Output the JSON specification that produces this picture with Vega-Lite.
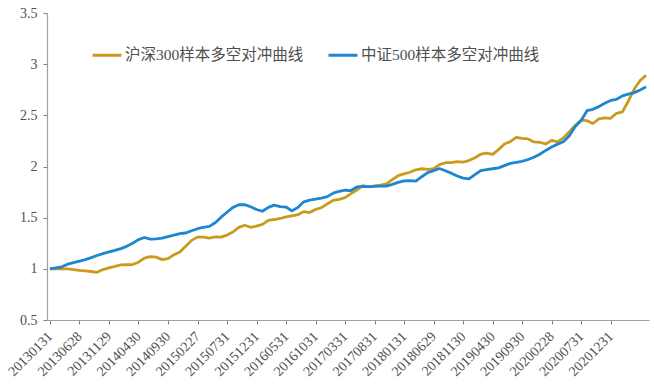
{
  "$schema": "https://vega.github.io/schema/vega-lite/v6.json",
  "autosize": "none",
  "width": 602,
  "height": 307,
  "padding": {"left": 47, "top": 13, "right": 5, "bottom": 67},
  "background": "white",
  "config": {
    "view": {"stroke": null},
    "font": "Liberation Serif, Noto Sans CJK SC"
  },
  "data": {
    "values": [
      {"date": "20130131", "hs300": 1.000, "zz500": 1.000},
      {"date": "20130228", "hs300": 1.000, "zz500": 1.010},
      {"date": "20130329", "hs300": 1.000, "zz500": 1.020},
      {"date": "20130430", "hs300": 1.000, "zz500": 1.045},
      {"date": "20130531", "hs300": 0.993, "zz500": 1.060},
      {"date": "20130628", "hs300": 0.985, "zz500": 1.075},
      {"date": "20130731", "hs300": 0.981, "zz500": 1.090},
      {"date": "20130830", "hs300": 0.974, "zz500": 1.110},
      {"date": "20130930", "hs300": 0.966, "zz500": 1.130},
      {"date": "20131031", "hs300": 0.993, "zz500": 1.148},
      {"date": "20131129", "hs300": 1.010, "zz500": 1.165},
      {"date": "20131231", "hs300": 1.024, "zz500": 1.180},
      {"date": "20140130", "hs300": 1.038, "zz500": 1.198},
      {"date": "20140228", "hs300": 1.040, "zz500": 1.220},
      {"date": "20140331", "hs300": 1.042, "zz500": 1.250},
      {"date": "20140430", "hs300": 1.065, "zz500": 1.286},
      {"date": "20140530", "hs300": 1.105, "zz500": 1.306},
      {"date": "20140630", "hs300": 1.119, "zz500": 1.290},
      {"date": "20140731", "hs300": 1.114, "zz500": 1.293},
      {"date": "20140829", "hs300": 1.090, "zz500": 1.300},
      {"date": "20140930", "hs300": 1.100, "zz500": 1.315},
      {"date": "20141031", "hs300": 1.137, "zz500": 1.330},
      {"date": "20141128", "hs300": 1.165, "zz500": 1.345},
      {"date": "20141231", "hs300": 1.220, "zz500": 1.350},
      {"date": "20150130", "hs300": 1.278, "zz500": 1.372},
      {"date": "20150227", "hs300": 1.310, "zz500": 1.392},
      {"date": "20150331", "hs300": 1.310, "zz500": 1.404},
      {"date": "20150430", "hs300": 1.300, "zz500": 1.415},
      {"date": "20150529", "hs300": 1.312, "zz500": 1.450},
      {"date": "20150630", "hs300": 1.310, "zz500": 1.505},
      {"date": "20150731", "hs300": 1.330, "zz500": 1.553},
      {"date": "20150831", "hs300": 1.360, "zz500": 1.600},
      {"date": "20150930", "hs300": 1.405, "zz500": 1.626},
      {"date": "20151030", "hs300": 1.426, "zz500": 1.627},
      {"date": "20151130", "hs300": 1.406, "zz500": 1.607},
      {"date": "20151231", "hs300": 1.418, "zz500": 1.580},
      {"date": "20160129", "hs300": 1.435, "zz500": 1.563},
      {"date": "20160229", "hs300": 1.474, "zz500": 1.600},
      {"date": "20160331", "hs300": 1.482, "zz500": 1.622},
      {"date": "20160429", "hs300": 1.492, "zz500": 1.608},
      {"date": "20160531", "hs300": 1.508, "zz500": 1.604},
      {"date": "20160630", "hs300": 1.518, "zz500": 1.566},
      {"date": "20160729", "hs300": 1.529, "zz500": 1.600},
      {"date": "20160831", "hs300": 1.559, "zz500": 1.655},
      {"date": "20160930", "hs300": 1.550, "zz500": 1.671},
      {"date": "20161031", "hs300": 1.580, "zz500": 1.681},
      {"date": "20161130", "hs300": 1.598, "zz500": 1.692},
      {"date": "20161230", "hs300": 1.635, "zz500": 1.706},
      {"date": "20170126", "hs300": 1.670, "zz500": 1.740},
      {"date": "20170228", "hs300": 1.678, "zz500": 1.758},
      {"date": "20170331", "hs300": 1.695, "zz500": 1.768},
      {"date": "20170428", "hs300": 1.735, "zz500": 1.765},
      {"date": "20170531", "hs300": 1.770, "zz500": 1.800},
      {"date": "20170630", "hs300": 1.812, "zz500": 1.806},
      {"date": "20170731", "hs300": 1.800, "zz500": 1.804},
      {"date": "20170831", "hs300": 1.810, "zz500": 1.806},
      {"date": "20170929", "hs300": 1.819, "zz500": 1.809},
      {"date": "20171031", "hs300": 1.830, "zz500": 1.809},
      {"date": "20171130", "hs300": 1.872, "zz500": 1.825},
      {"date": "20171229", "hs300": 1.910, "zz500": 1.845},
      {"date": "20180131", "hs300": 1.928, "zz500": 1.860},
      {"date": "20180228", "hs300": 1.944, "zz500": 1.862},
      {"date": "20180330", "hs300": 1.968, "zz500": 1.858},
      {"date": "20180427", "hs300": 1.978, "zz500": 1.900},
      {"date": "20180531", "hs300": 1.972, "zz500": 1.940},
      {"date": "20180629", "hs300": 1.980, "zz500": 1.960},
      {"date": "20180731", "hs300": 2.018, "zz500": 1.980},
      {"date": "20180831", "hs300": 2.037, "zz500": 1.958},
      {"date": "20180928", "hs300": 2.038, "zz500": 1.935},
      {"date": "20181031", "hs300": 2.047, "zz500": 1.907},
      {"date": "20181130", "hs300": 2.043, "zz500": 1.887},
      {"date": "20181228", "hs300": 2.058, "zz500": 1.879},
      {"date": "20190131", "hs300": 2.085, "zz500": 1.920},
      {"date": "20190228", "hs300": 2.120, "zz500": 1.960},
      {"date": "20190329", "hs300": 2.130, "zz500": 1.970},
      {"date": "20190430", "hs300": 2.118, "zz500": 1.978},
      {"date": "20190531", "hs300": 2.165, "zz500": 1.986},
      {"date": "20190628", "hs300": 2.220, "zz500": 2.008},
      {"date": "20190731", "hs300": 2.243, "zz500": 2.030},
      {"date": "20190830", "hs300": 2.284, "zz500": 2.040},
      {"date": "20190930", "hs300": 2.275, "zz500": 2.051},
      {"date": "20191031", "hs300": 2.270, "zz500": 2.068},
      {"date": "20191129", "hs300": 2.240, "zz500": 2.090},
      {"date": "20191231", "hs300": 2.235, "zz500": 2.120},
      {"date": "20200123", "hs300": 2.220, "zz500": 2.157},
      {"date": "20200228", "hs300": 2.255, "zz500": 2.190},
      {"date": "20200331", "hs300": 2.240, "zz500": 2.218},
      {"date": "20200430", "hs300": 2.280, "zz500": 2.242},
      {"date": "20200529", "hs300": 2.340, "zz500": 2.300},
      {"date": "20200630", "hs300": 2.400, "zz500": 2.390},
      {"date": "20200731", "hs300": 2.453, "zz500": 2.450},
      {"date": "20200831", "hs300": 2.448, "zz500": 2.545},
      {"date": "20200930", "hs300": 2.420, "zz500": 2.559},
      {"date": "20201030", "hs300": 2.465, "zz500": 2.585},
      {"date": "20201130", "hs300": 2.476, "zz500": 2.618},
      {"date": "20201231", "hs300": 2.471, "zz500": 2.645},
      {"date": "20210129", "hs300": 2.520, "zz500": 2.657},
      {"date": "20210226", "hs300": 2.534, "zz500": 2.690},
      {"date": "20210331", "hs300": 2.640, "zz500": 2.708},
      {"date": "20210430", "hs300": 2.757, "zz500": 2.722},
      {"date": "20210531", "hs300": 2.840, "zz500": 2.747},
      {"date": "20210630", "hs300": 2.890, "zz500": 2.778}
    ]
  },
  "transform": [
    {"fold": ["hs300", "zz500"], "as": ["series", "value"]}
  ],
  "mark": {"type": "line", "strokeWidth": 2.8, "strokeJoin": "round"},
  "encoding": {
    "x": {
      "field": "date",
      "type": "ordinal",
      "scale": {"type": "point", "padding": 0.5},
      "axis": {
        "title": null,
        "values": ["20130131", "20130628", "20131129", "20140430", "20140930", "20150227", "20150731", "20151231", "20160531", "20161031", "20170331", "20170831", "20180131", "20180629", "20181130", "20190430", "20190930", "20200228", "20200731", "20201231"],
        "labelAngle": -45,
        "labelAlign": "right",
        "labelBaseline": "middle",
        "labelFont": "Liberation Serif",
        "labelFontSize": 14,
        "labelColor": "#505050",
        "labelPadding": 10,
        "tickSize": 4,
        "tickOffset": 0,
        "tickColor": "#808080",
        "domainColor": "#a0a0a0",
        "domainWidth": 1.2,
        "grid": false
      }
    },
    "y": {
      "field": "value",
      "type": "quantitative",
      "scale": {"domain": [0.5, 3.5], "nice": false, "zero": false},
      "axis": {
        "title": null,
        "values": [0.5, 1, 1.5, 2, 2.5, 3, 3.5],
        "format": "~g",
        "labelFont": "Liberation Serif",
        "labelFontSize": 14,
        "labelColor": "#505050",
        "labelPadding": 6,
        "tickSize": 4,
        "tickColor": "#808080",
        "domainColor": "#a0a0a0",
        "domainWidth": 1.2,
        "grid": false
      }
    },
    "color": {
      "field": "series",
      "type": "nominal",
      "scale": {"domain": ["hs300", "zz500"], "range": ["#C99A1C", "#1C86CF"]},
      "legend": {
        "title": null,
        "orient": "none",
        "direction": "horizontal",
        "legendX": 44,
        "legendY": 26,
        "padding": 0,
        "symbolType": "stroke",
        "symbolSize": 841,
        "symbolStrokeWidth": 3,
        "labelOffset": 2,
        "columnPadding": 18,
        "labelFont": "Liberation Serif, Noto Sans CJK SC",
        "labelFontSize": 15.5,
        "labelColor": "#505050",
        "labelLimit": 400,
        "labelExpr": "datum.label == 'hs300' ? '沪深300样本多空对冲曲线' : '中证500样本多空对冲曲线'"
      }
    }
  }
}
